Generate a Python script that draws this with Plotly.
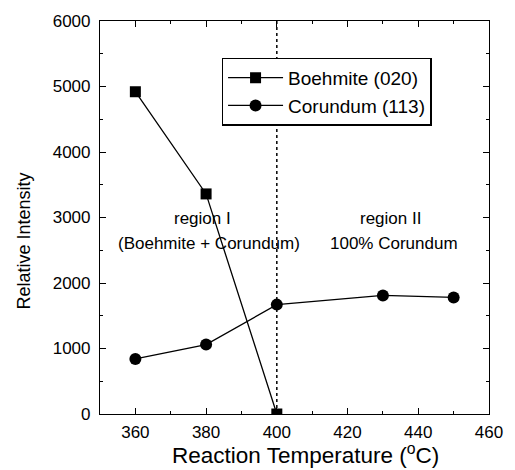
import plotly.graph_objects as go

temps_b = [360, 380, 400]
boehmite = [4920, 3360, 0]
temps_c = [360, 380, 400, 430, 450]
corundum = [840, 1060, 1670, 1810, 1780]
x_ticks = [360, 380, 400, 420, 440, 460]
y_ticks = [0, 1000, 2000, 3000, 4000, 5000, 6000]

FONT = "Liberation Sans, Arial, sans-serif"

fig = go.Figure()
fig.add_trace(go.Scatter(x=temps_b, y=boehmite, mode="lines+markers", name="Boehmite (020)",
                         line=dict(color="black", width=1.3),
                         marker=dict(symbol="square", size=11, color="black")))
fig.add_trace(go.Scatter(x=temps_c, y=corundum, mode="lines+markers", name="Corundum (113)",
                         line=dict(color="black", width=1.3),
                         marker=dict(symbol="circle", size=12, color="black")))

fig.add_shape(type="line", x0=400, x1=400, y0=0, y1=1, yref="paper", xref="x",
              line=dict(color="black", width=1.5, dash="dot"))

ann_font = dict(family=FONT, size=17, color="black")
fig.add_annotation(x=379.1, y=2985, text="region I", showarrow=False, font=ann_font)
fig.add_annotation(x=380.8, y=2606, text="(Boehmite + Corundum)", showarrow=False, font=ann_font)
fig.add_annotation(x=432.1, y=2985, text="region II", showarrow=False, font=ann_font)
fig.add_annotation(x=433.2, y=2606, text="100% Corundum", showarrow=False, font=ann_font)

# axis titles
fig.add_annotation(xref="paper", yref="paper", x=0.527, y=-0.143, xanchor="center", yanchor="bottom",
                   text="Reaction Temperature (<sup>o</sup>C)", showarrow=False,
                   font=dict(family=FONT, size=22.5, color="black"))
fig.add_annotation(xref="paper", yref="paper", x=-0.194, y=0.44, xanchor="center", yanchor="middle",
                   text="Relative Intensity", showarrow=False, textangle=-90,
                   font=dict(family=FONT, size=18, color="black"))

axis_common = dict(showline=True, linecolor="black", linewidth=1.2, mirror="ticks",
                   ticks="inside", ticklen=6, tickwidth=1.2, tickcolor="black",
                   showgrid=False, zeroline=False,
                   tickfont=dict(family=FONT, size=17, color="black"))

fig.update_layout(
    width=515, height=470,
    margin=dict(l=100, r=19, t=18, b=56),
    paper_bgcolor="white", plot_bgcolor="white",
    font=dict(family=FONT, color="black"),
    xaxis=dict(range=[350, 460], tickvals=x_ticks,
               minor=dict(dtick=10, ticks="inside", ticklen=3, tickcolor="black"),
               ticklabelstandoff=2,
               **axis_common),
    yaxis=dict(range=[0, 6000], tickvals=y_ticks,
               minor=dict(dtick=500, ticks="inside", ticklen=3, tickcolor="black"),
               ticklabelstandoff=5,
               **axis_common),
    legend=dict(x=0.313, y=0.907, xanchor="left", yanchor="top",
                bordercolor="black", borderwidth=1.3, bgcolor="white",
                font=dict(family=FONT, size=19, color="black"),
                tracegroupgap=0, itemwidth=55),
    showlegend=True,
)

fig.write_html("out.html")
